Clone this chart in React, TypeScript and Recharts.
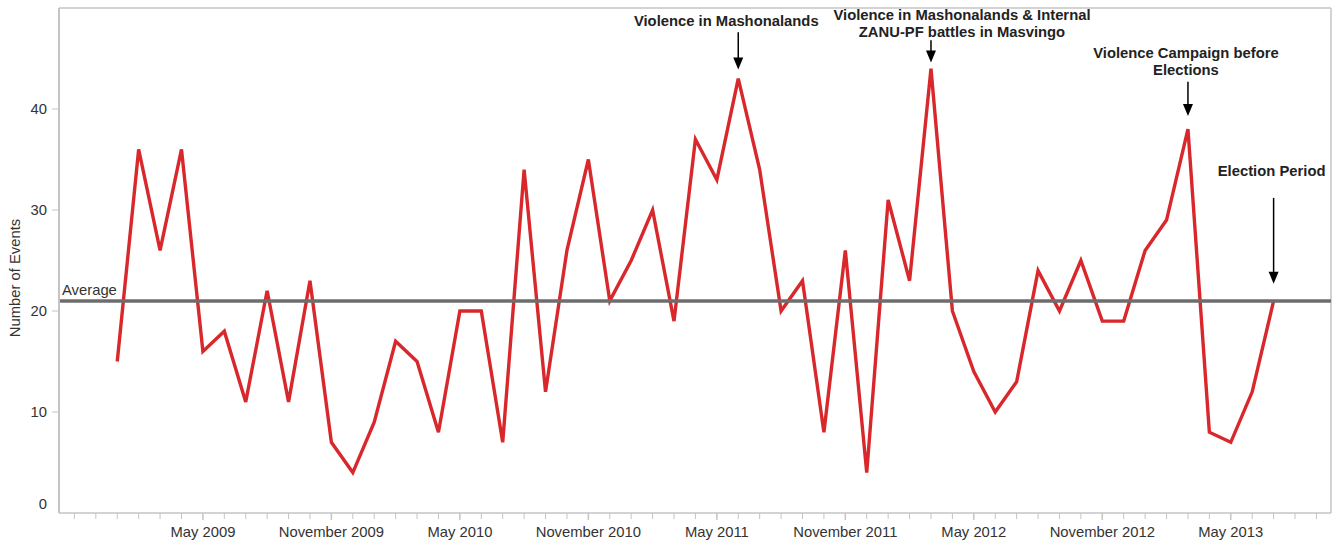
import { LineChart, Line, XAxis, YAxis, ReferenceLine } from 'recharts';

// monthly event counts, Jan 2009 .. Jul 2013
const MONTH_NAMES = ['Jan', 'Feb', 'Mar', 'Apr', 'May', 'Jun', 'Jul', 'Aug', 'Sep', 'Oct', 'Nov', 'Dec'];
const START_YEAR = 2009;

const events = [
  15, 36, 26, 36, 16, 18, 11, 22, 11, 23, 7, 4,
  9, 17, 15, 8, 20, 20, 7, 34, 12, 26, 35, 21,
  25, 30, 19, 37, 33, 43, 34, 20, 23, 8, 26, 4,
  31, 23, 44, 20, 14, 10, 13, 24, 20, 25, 19, 19,
  26, 29, 38, 8, 7, 12, 21,
];

const months = events.map(
  (_, i) => `${MONTH_NAMES[i % 12]} ${START_YEAR + Math.floor(i / 12)}`
);

// month index 0 = Jan 2009
const xTicks = Array.from({ length: 59 }, (_, i) => i - 2);
const majorTicks = [4, 10, 16, 22, 28, 34, 40, 46, 52];
const majorLabels = [
  'May 2009',
  'November 2009',
  'May 2010',
  'November 2010',
  'May 2011',
  'November 2011',
  'May 2012',
  'November 2012',
  'May 2013',
];
const yTicks = [0, 10, 20, 30, 40];

const notes = [
  { idx: 29, top: 47.6, tip: 43.9, dx: -12, gap: 6, lines: ['Violence in Mashonalands'] },
  {
    idx: 38,
    top: 46.8,
    tip: 44.6,
    dx: 31,
    gap: 3,
    lines: ['Violence in Mashonalands & Internal', 'ZANU-PF battles in Masvingo'],
  },
  { idx: 50, top: 42.7, tip: 39.3, dx: -2, gap: 7, lines: ['Violence Campaign before', 'Elections'] },
  { idx: 54, top: 31.2, tip: 22.7, dx: -2, gap: 22, lines: ['Election Period'] },
];

const data = events.map((v, i) => ({ idx: i, month: months[i], events: v }));
const average = events.reduce((a, b) => a + b, 0) / events.length;

const FONT = '"Liberation Sans", Arial, sans-serif';
const AXIS = '#c4c4c4';
const TEXT = '#333';
const FS = 14.8;

function XTick({ x, y, payload }: any) {
  const m = majorTicks.indexOf(payload.value);
  return (
    <g>
      <line x1={x} x2={x} y1={y} y2={y + (m >= 0 ? 7 : 6)} stroke={AXIS} strokeWidth={m >= 0 ? 1.5 : 1} />
      {m >= 0 && (
        <text x={x} y={y + 24} textAnchor="middle" fontSize={FS} fill={TEXT} fontFamily={FONT}>
          {majorLabels[m]}
        </text>
      )}
    </g>
  );
}

function YTick({ x, y, payload }: any) {
  return (
    <g>
      {payload.value !== 0 && <line x1={x - 7} x2={x} y1={y} y2={y} stroke={AXIS} />}
      <text
        x={x - 12}
        y={y + (payload.value === 0 ? -9 : 0)}
        dy="0.35em"
        textAnchor="end"
        fontSize={FS}
        fill={TEXT}
        fontFamily={FONT}
      >
        {payload.value}
      </text>
    </g>
  );
}

function arrowShape(note: (typeof notes)[number]) {
  return (p: any) => {
    const x = p.x1;
    const top = Math.min(p.y1, p.y2);
    const tip = Math.max(p.y1, p.y2);
    const head = 12;
    const n = note.lines.length;
    return (
      <g>
        <line x1={x} x2={x} y1={top} y2={tip - head + 1} stroke="#000" strokeWidth={1.5} />
        <path d={`M${x - 5},${tip - head} L${x + 5},${tip - head} L${x},${tip} Z`} fill="#000" />
        {note.lines.map((t, i) => (
          <text
            key={i}
            x={x + note.dx}
            y={top - note.gap - (n - 1 - i) * 17}
            textAnchor="middle"
            fontWeight="bold"
            fontSize={FS}
            fill="#222"
            fontFamily={FONT}
          >
            {t}
          </text>
        ))}
      </g>
    );
  };
}

export default function App() {
  return (
    <div style={{ position: 'absolute', left: 0, top: 0, background: '#fff' }}>
      <LineChart
        width={1335}
        height={541}
        data={data}
        margin={{ top: 8, right: 4, bottom: 0, left: 0 }}
      >
        <XAxis
          type="number"
          dataKey="idx"
          domain={[-2.72, 56.68]}
          ticks={xTicks}
          interval={0}
          allowDataOverflow
          height={28}
          tickSize={0}
          tickMargin={0}
          tick={<XTick />}
          axisLine={{ stroke: AXIS, strokeWidth: 1.5 }}
        />
        <YAxis
          type="number"
          domain={[0, 50]}
          ticks={yTicks}
          interval={0}
          allowDataOverflow
          width={59}
          tickSize={0}
          tickMargin={0}
          tick={<YTick />}
          axisLine={{ stroke: AXIS, strokeWidth: 2 }}
          label={{
            content: () => (
              <text
                x={15}
                y={278}
                transform="rotate(-90 15 278)"
                textAnchor="middle"
                dominantBaseline="central"
                fontSize={FS}
                fill={TEXT}
                fontFamily={FONT}
              >
                Number of Events
              </text>
            ),
          }}
        />
        <ReferenceLine y={50} stroke={AXIS} strokeWidth={1.5} ifOverflow="visible" />
        <ReferenceLine x={56.68} stroke={AXIS} strokeWidth={1.5} ifOverflow="visible" />
        <Line
          type="linear"
          dataKey="events"
          stroke="#d8282c"
          strokeWidth={3.4}
          dot={false}
          activeDot={false}
          isAnimationActive={false}
        />
        <ReferenceLine
          y={average}
          stroke="#6d6d6d"
          strokeWidth={3.5}
          label={{
            content: (props: any) => (
              <text
                x={props.viewBox.x + 3}
                y={props.viewBox.y - 6}
                fontSize={FS}
                fill={TEXT}
                fontFamily={FONT}
              >
                Average
              </text>
            ),
          }}
        />
        {notes.map((n) => (
          <ReferenceLine
            key={n.idx}
            segment={[
              { x: n.idx, y: n.top },
              { x: n.idx, y: n.tip },
            ]}
            stroke="#000"
            shape={arrowShape(n)}
          />
        ))}
      </LineChart>
    </div>
  );
}
